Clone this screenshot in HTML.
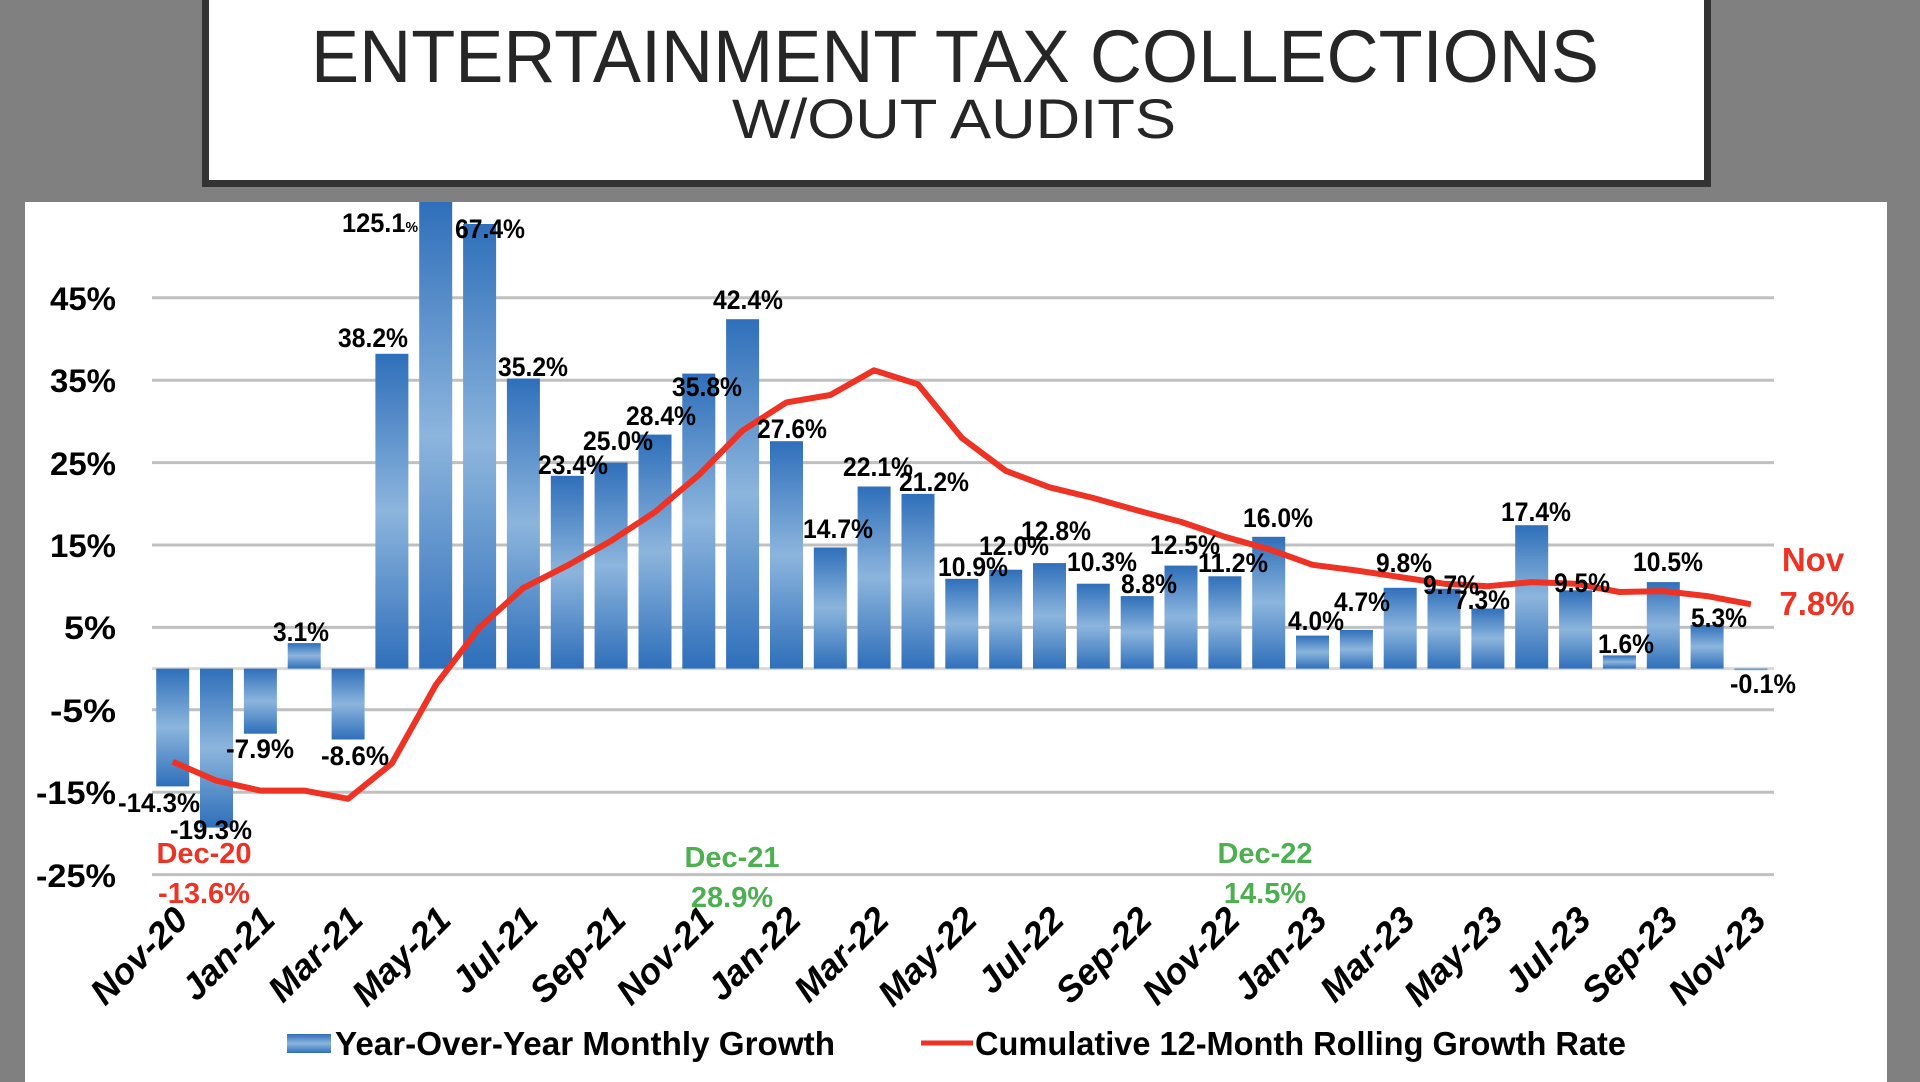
<!DOCTYPE html>
<html><head><meta charset="utf-8"><style>html,body{margin:0;padding:0;background:#808080;}svg{display:block}</style></head>
<body>
<svg width="1920" height="1082" viewBox="0 0 1920 1082" xmlns="http://www.w3.org/2000/svg" font-family="Liberation Sans, sans-serif">
<defs>
<linearGradient id="g" x1="0" y1="0" x2="0" y2="1">
<stop offset="0" stop-color="#2f6fba"/><stop offset="0.5" stop-color="#8cb5dd"/><stop offset="1" stop-color="#2f6fba"/>
</linearGradient>
</defs>
<rect width="1920" height="1082" fill="#808080"/>
<rect x="202" y="-10" width="1509" height="197" fill="#333"/>
<rect x="209" y="-10" width="1495" height="190" fill="#fff"/>
<text x="955" y="82" font-size="74" text-anchor="middle" fill="#262626" textLength="1288" lengthAdjust="spacingAndGlyphs">ENTERTAINMENT TAX COLLECTIONS</text>
<text x="954" y="138" font-size="56" text-anchor="middle" fill="#262626" textLength="444" lengthAdjust="spacingAndGlyphs">W/OUT AUDITS</text>
<rect x="25" y="202" width="1862" height="880" fill="#fff"/>
<g stroke="#c0c0c0" stroke-width="3">
<line x1="152" x2="1774" y1="297.8" y2="297.8"/><line x1="152" x2="1774" y1="380.2" y2="380.2"/>
<line x1="152" x2="1774" y1="462.6" y2="462.6"/><line x1="152" x2="1774" y1="545" y2="545"/>
<line x1="152" x2="1774" y1="627.4" y2="627.4"/><line x1="152" x2="1774" y1="709.8" y2="709.8"/>
<line x1="152" x2="1774" y1="792.2" y2="792.2"/><line x1="152" x2="1774" y1="874.6" y2="874.6"/>
<line x1="152" x2="1774" y1="668.6" y2="668.6" stroke="#d8d8d8"/>
</g>
<g font-size="32" font-weight="bold" text-anchor="end" fill="#000">
<text x="116" y="310" textLength="66" lengthAdjust="spacingAndGlyphs">45%</text>
<text x="116" y="392" textLength="66" lengthAdjust="spacingAndGlyphs">35%</text>
<text x="116" y="475" textLength="66" lengthAdjust="spacingAndGlyphs">25%</text>
<text x="116" y="557" textLength="66" lengthAdjust="spacingAndGlyphs">15%</text>
<text x="116" y="639" textLength="52" lengthAdjust="spacingAndGlyphs">5%</text>
<text x="116" y="722" textLength="66" lengthAdjust="spacingAndGlyphs">-5%</text>
<text x="116" y="804" textLength="80" lengthAdjust="spacingAndGlyphs">-15%</text>
<text x="116" y="887" textLength="80" lengthAdjust="spacingAndGlyphs">-25%</text>
</g>
<g fill="url(#g)">
<rect x="156.2" y="668.6" width="33" height="117.8"/>
<rect x="200" y="668.6" width="33" height="159"/>
<rect x="243.9" y="668.6" width="33" height="65.1"/>
<rect x="287.7" y="643.1" width="33" height="25.5"/>
<rect x="331.6" y="668.6" width="33" height="70.9"/>
<rect x="375.4" y="353.8" width="33" height="314.8"/>
<rect x="419.2" y="202" width="33" height="466.6"/>
<rect x="463.1" y="224" width="33" height="444.6"/>
<rect x="506.9" y="378.5" width="33" height="290.1"/>
<rect x="550.8" y="475.8" width="33" height="192.8"/>
<rect x="594.6" y="462.6" width="33" height="206"/>
<rect x="638.5" y="434.6" width="33" height="234"/>
<rect x="682.3" y="373.6" width="33" height="295"/>
<rect x="726.1" y="319.2" width="33" height="349.4"/>
<rect x="770" y="441.2" width="33" height="227.4"/>
<rect x="813.8" y="547.5" width="33" height="121.1"/>
<rect x="857.6" y="486.5" width="33" height="182.1"/>
<rect x="901.5" y="493.9" width="33" height="174.7"/>
<rect x="945.3" y="578.8" width="33" height="89.8"/>
<rect x="989.2" y="569.7" width="33" height="98.9"/>
<rect x="1033" y="563.1" width="33" height="105.5"/>
<rect x="1076.8" y="583.7" width="33" height="84.9"/>
<rect x="1120.7" y="596.1" width="33" height="72.5"/>
<rect x="1164.5" y="565.6" width="33" height="103"/>
<rect x="1208.4" y="576.3" width="33" height="92.3"/>
<rect x="1252.2" y="536.8" width="33" height="131.8"/>
<rect x="1296" y="635.6" width="33" height="33"/>
<rect x="1339.9" y="629.9" width="33" height="38.7"/>
<rect x="1383.7" y="587.8" width="33" height="80.8"/>
<rect x="1427.5" y="588.7" width="33" height="79.9"/>
<rect x="1471.4" y="608.5" width="33" height="60.1"/>
<rect x="1515.2" y="525.2" width="33" height="143.4"/>
<rect x="1559.1" y="590.3" width="33" height="78.3"/>
<rect x="1602.9" y="655.4" width="33" height="13.2"/>
<rect x="1646.8" y="582.1" width="33" height="86.5"/>
<rect x="1690.6" y="624.9" width="33" height="43.7"/>
<rect x="1734.4" y="668.6" width="33" height="1.5"/>
</g>
<polyline fill="none" stroke="#ee3224" stroke-width="6" stroke-linejoin="round" points="172.7,761.7 216.5,780.7 260.4,790.6 304.2,790.6 348.1,798.8 391.9,763.4 435.7,685.1 479.6,627.4 523.4,587.9 567.3,565.6 611.1,540.9 655,512 698.8,475 742.6,430.5 786.5,402.4 830.3,395 874.1,370.3 918,384.3 961.8,437.9 1005.7,470.8 1049.5,487.3 1093.3,498 1137.2,510.4 1181,521.9 1224.9,536.8 1268.7,549.1 1312.5,564.8 1356.4,570.5 1400.2,577.1 1444,583.7 1487.9,586.2 1531.7,582.1 1575.6,583.7 1619.4,592 1663.3,591.1 1707.1,596.1 1750.9,604.3"/>
<g font-size="27" font-weight="bold" text-anchor="middle" fill="#000">
<text x="159" y="812" textLength="82" lengthAdjust="spacingAndGlyphs">-14.3%</text>
<text x="211" y="839" textLength="82" lengthAdjust="spacingAndGlyphs">-19.3%</text>
<text x="260" y="758" textLength="68" lengthAdjust="spacingAndGlyphs">-7.9%</text>
<text x="301" y="641" textLength="56" lengthAdjust="spacingAndGlyphs">3.1%</text>
<text x="355" y="765" textLength="68" lengthAdjust="spacingAndGlyphs">-8.6%</text>
<text x="373" y="347" textLength="70" lengthAdjust="spacingAndGlyphs">38.2%</text>
<text x="380" y="232" textLength="76" lengthAdjust="spacingAndGlyphs">125.1<tspan font-size="15">%</tspan></text>
<text x="490" y="238" textLength="70" lengthAdjust="spacingAndGlyphs">67.4%</text>
<text x="533" y="376" textLength="70" lengthAdjust="spacingAndGlyphs">35.2%</text>
<text x="573" y="474" textLength="70" lengthAdjust="spacingAndGlyphs">23.4%</text>
<text x="618" y="450" textLength="70" lengthAdjust="spacingAndGlyphs">25.0%</text>
<text x="661" y="425" textLength="70" lengthAdjust="spacingAndGlyphs">28.4%</text>
<text x="707" y="396" textLength="70" lengthAdjust="spacingAndGlyphs">35.8%</text>
<text x="748" y="309" textLength="70" lengthAdjust="spacingAndGlyphs">42.4%</text>
<text x="792" y="438" textLength="70" lengthAdjust="spacingAndGlyphs">27.6%</text>
<text x="838" y="538" textLength="70" lengthAdjust="spacingAndGlyphs">14.7%</text>
<text x="878" y="476" textLength="70" lengthAdjust="spacingAndGlyphs">22.1%</text>
<text x="934" y="491" textLength="70" lengthAdjust="spacingAndGlyphs">21.2%</text>
<text x="973" y="576" textLength="70" lengthAdjust="spacingAndGlyphs">10.9%</text>
<text x="1014" y="555" textLength="70" lengthAdjust="spacingAndGlyphs">12.0%</text>
<text x="1056" y="540" textLength="70" lengthAdjust="spacingAndGlyphs">12.8%</text>
<text x="1102" y="571" textLength="70" lengthAdjust="spacingAndGlyphs">10.3%</text>
<text x="1149" y="593" textLength="56" lengthAdjust="spacingAndGlyphs">8.8%</text>
<text x="1185" y="554" textLength="70" lengthAdjust="spacingAndGlyphs">12.5%</text>
<text x="1233" y="572" textLength="70" lengthAdjust="spacingAndGlyphs">11.2%</text>
<text x="1278" y="527" textLength="70" lengthAdjust="spacingAndGlyphs">16.0%</text>
<text x="1316" y="630" textLength="56" lengthAdjust="spacingAndGlyphs">4.0%</text>
<text x="1362" y="611" textLength="56" lengthAdjust="spacingAndGlyphs">4.7%</text>
<text x="1404" y="572" textLength="56" lengthAdjust="spacingAndGlyphs">9.8%</text>
<text x="1451" y="594" textLength="56" lengthAdjust="spacingAndGlyphs">9.7%</text>
<text x="1482" y="609" textLength="56" lengthAdjust="spacingAndGlyphs">7.3%</text>
<text x="1536" y="521" textLength="70" lengthAdjust="spacingAndGlyphs">17.4%</text>
<text x="1582" y="592" textLength="56" lengthAdjust="spacingAndGlyphs">9.5%</text>
<text x="1626" y="653" textLength="56" lengthAdjust="spacingAndGlyphs">1.6%</text>
<text x="1668" y="571" textLength="70" lengthAdjust="spacingAndGlyphs">10.5%</text>
<text x="1719" y="627" textLength="56" lengthAdjust="spacingAndGlyphs">5.3%</text>
<text x="1763" y="693" textLength="66" lengthAdjust="spacingAndGlyphs">-0.1%</text>
</g>
<g font-size="29" font-weight="bold" text-anchor="middle">
<text x="204" y="863" fill="#ee3224">Dec-20</text>
<text x="204" y="903" fill="#ee3224">-13.6%</text>
<text x="732" y="867" fill="#4caf50">Dec-21</text>
<text x="732" y="907" fill="#4caf50">28.9%</text>
<text x="1265" y="863" fill="#4caf50">Dec-22</text>
<text x="1265" y="903" fill="#4caf50">14.5%</text>
<text x="1813" y="571" fill="#ee3224" font-size="33">Nov</text>
<text x="1817" y="615" fill="#ee3224" font-size="33">7.8%</text>
</g>
<g font-size="36" font-weight="bold" font-style="italic" text-anchor="end" fill="#000">
<text transform="translate(190,922) rotate(-45)">Nov-20</text>
<text transform="translate(277,922) rotate(-45)">Jan-21</text>
<text transform="translate(365,922) rotate(-45)">Mar-21</text>
<text transform="translate(453,922) rotate(-45)">May-21</text>
<text transform="translate(540,922) rotate(-45)">Jul-21</text>
<text transform="translate(628,922) rotate(-45)">Sep-21</text>
<text transform="translate(716,922) rotate(-45)">Nov-21</text>
<text transform="translate(803,922) rotate(-45)">Jan-22</text>
<text transform="translate(891,922) rotate(-45)">Mar-22</text>
<text transform="translate(979,922) rotate(-45)">May-22</text>
<text transform="translate(1066,922) rotate(-45)">Jul-22</text>
<text transform="translate(1154,922) rotate(-45)">Sep-22</text>
<text transform="translate(1242,922) rotate(-45)">Nov-22</text>
<text transform="translate(1329,922) rotate(-45)">Jan-23</text>
<text transform="translate(1417,922) rotate(-45)">Mar-23</text>
<text transform="translate(1505,922) rotate(-45)">May-23</text>
<text transform="translate(1593,922) rotate(-45)">Jul-23</text>
<text transform="translate(1680,922) rotate(-45)">Sep-23</text>
<text transform="translate(1768,922) rotate(-45)">Nov-23</text>
</g>
<rect x="287" y="1034" width="44" height="19" fill="url(#g)"/>
<text x="335" y="1055" font-size="33" font-weight="bold" fill="#000" textLength="500" lengthAdjust="spacingAndGlyphs">Year-Over-Year Monthly Growth</text>
<line x1="921" x2="973" y1="1043" y2="1043" stroke="#ee3224" stroke-width="5"/>
<text x="975" y="1055" font-size="33" font-weight="bold" fill="#000" textLength="651" lengthAdjust="spacingAndGlyphs">Cumulative 12-Month Rolling Growth Rate</text>
</svg>
</body></html>
